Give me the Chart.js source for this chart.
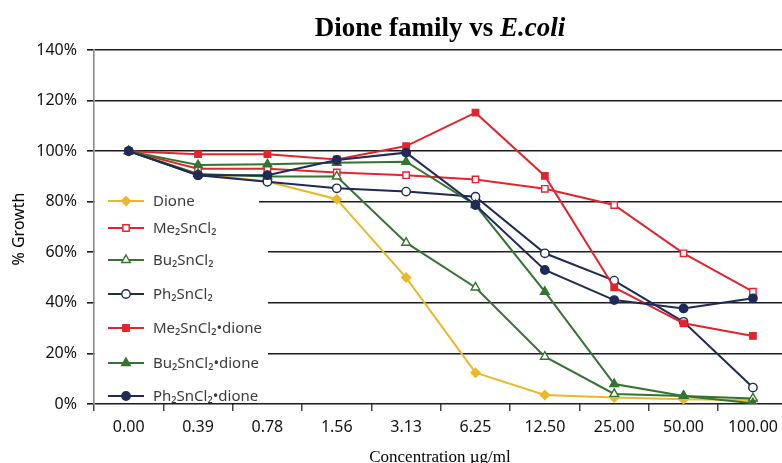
<!DOCTYPE html>
<html>
<head>
<meta charset="utf-8">
<script src="https://cdn.jsdelivr.net/npm/chart.js@4"></script>
<style>
  html, body { margin: 0; padding: 0; background: #fff; overflow: hidden; }
  #wrap { width: 782px; height: 463px; overflow: hidden; }
  #c { display: block; }
</style>
</head>
<body>
<div id="wrap"><canvas id="c" width="794" height="463"></canvas></div>
<script>
// Concentrations tested (µg/ml)
const concentrations = ['0.00', '0.39', '0.78', '1.56', '3.13', '6.25', '12.50', '25.00', '50.00', '100.00'];

// % growth of E. coli at each concentration
const dione          = [100, 91, 88, 81, 50, 12.4, 3.6, 2.6, 1.9, 1.6];
const me2SnCl2       = [100, 93, 93, 91.6, 90.5, 88.8, 85.1, 78.7, 59.6, 44.4];
const bu2SnCl2       = [100, 91, 90, 90, 63.8, 46.1, 18.7, 4, 3.2, 2.2];
const ph2SnCl2       = [100, 90.5, 87.9, 85.3, 84, 82, 59.6, 48.8, 32.5, 6.5];
const me2SnCl2Dione  = [100, 98.8, 98.8, 96.7, 102, 115.2, 90.2, 46.1, 31.9, 26.9];
const bu2SnCl2Dione  = [100, 94.5, 94.8, 95.4, 95.8, 78.7, 44.4, 7.9, 3.2, 0.3];
const ph2SnCl2Dione  = [100, 90.5, 90.5, 96.5, 99.4, 78.7, 53, 41.1, 37.8, 41.8];

const seriesNames = ['Dione', 'Me₂SnCl₂', 'Bu₂SnCl₂', 'Ph₂SnCl₂', 'Me₂SnCl₂•dione', 'Bu₂SnCl₂•dione', 'Ph₂SnCl₂•dione'];
const yTicks = [0, 20, 40, 60, 80, 100, 120, 140];

const YELLOW = '#EAB82A', RED = '#E2252C', GREEN = '#357330', NAVY = '#1E2A57';

function series(label, data, color, style, hollow, radius) {
  return {
    label, data,
    borderColor: color,
    backgroundColor: color,
    borderWidth: 2,
    pointStyle: style,
    pointRadius: radius,
    pointHoverRadius: radius,
    pointBackgroundColor: hollow ? '#fff' : color,
    pointBorderColor: color,
    pointBorderWidth: 1.4,
    tension: 0
  };
}

const datasets = [
  series(seriesNames[0], dione,         YELLOW, 'rectRot',  false, 4.5),
  series(seriesNames[1], me2SnCl2,      RED,    'rect',     true,  4.5),
  series(seriesNames[2], bu2SnCl2,      GREEN,  'triangle', true,  5),
  series(seriesNames[3], ph2SnCl2,      NAVY,   'circle',   true,  4.2),
  series(seriesNames[4], me2SnCl2Dione, RED,    'rect',     false, 4.5),
  series(seriesNames[5], bu2SnCl2Dione, GREEN,  'triangle', false, 5),
  series(seriesNames[6], ph2SnCl2Dione, NAVY,   'circle',   false, 4.2)
];
// later series are painted on top of earlier ones
datasets.forEach((d, i) => { d.order = datasets.length - 1 - i; });

const SANS = '"Noto Sans", "Open Sans", sans-serif';
const SERIF = '"Liberation Serif", "Times New Roman", serif';

// Title, axis titles and the boxed legend inside the plot area
const decorations = {
  id: 'decorations',
  afterDraw(chart) {
    const ctx = chart.ctx;
    const area = chart.chartArea;
    ctx.save();

    // title: "Dione family vs " + italic "E.coli"
    const part1 = 'Dione family vs ', part2 = 'E.coli';
    const titleSize = 27;
    ctx.fillStyle = '#000';
    ctx.textBaseline = 'alphabetic';
    ctx.font = 'bold ' + titleSize + 'px ' + SERIF;
    const w1 = ctx.measureText(part1).width;
    ctx.font = 'italic bold ' + titleSize + 'px ' + SERIF;
    const w2 = ctx.measureText(part2).width;
    const tx = 440 - (w1 + w2) / 2;
    ctx.font = 'bold ' + titleSize + 'px ' + SERIF;
    ctx.fillText(part1, tx, 36);
    ctx.font = 'italic bold ' + titleSize + 'px ' + SERIF;
    ctx.fillText(part2, tx + w1, 36);

    // x-axis title
    ctx.font = '17px ' + SERIF;
    ctx.textAlign = 'center';
    ctx.fillText('Concentration µg/ml', 440, 462);

    // y-axis title
    ctx.save();
    ctx.translate(19, 229);
    ctx.rotate(-Math.PI / 2);
    ctx.font = '16px ' + SANS;
    ctx.textBaseline = 'middle';
    ctx.fillText('% Growth', 0, 0);
    ctx.restore();

    // legend box
    ctx.fillStyle = '#fff';
    ctx.fillRect(area.left + 1, 186, 164, 30);
    ctx.fillRect(area.left + 1, 214, 173, 188);

    const rows = [201, 228, 260, 294, 328, 363, 396];
    ctx.textAlign = 'left';
    ctx.textBaseline = 'middle';
    ctx.font = '15px ' + SANS;
    chart.data.datasets.forEach((d, i) => {
      const y = rows[i];
      ctx.strokeStyle = d.borderColor;
      ctx.lineWidth = 2;
      ctx.beginPath();
      ctx.moveTo(108, y);
      ctx.lineTo(144, y);
      ctx.stroke();
      ctx.fillStyle = d.pointBackgroundColor;
      ctx.strokeStyle = d.pointBorderColor;
      ctx.lineWidth = d.pointBorderWidth;
      Chart.helpers.drawPoint(ctx, {
        pointStyle: d.pointStyle,
        radius: d.pointRadius,
        rotation: 0,
        borderWidth: d.pointBorderWidth
      }, 126, y);
      ctx.fillStyle = '#3a3a3a';
      ctx.fillText(d.label, 153, y + 1);
    });

    ctx.restore();
  }
};

new Chart(document.getElementById('c'), {
  type: 'line',
  data: { labels: concentrations, datasets },
  plugins: [decorations],
  options: {
    responsive: false,
    animation: false,
    devicePixelRatio: 1,
    layout: { padding: { top: 50, right: 0, left: 0, bottom: 0 } },
    plugins: {
      legend: { display: false },
      title: { display: false },
      tooltip: { enabled: false }
    },
    scales: {
      x: {
        type: 'category',
        offset: true,
        afterFit(scale) { scale.height = 59; },
        grid: {
          offset: true,
          drawOnChartArea: false,
          drawTicks: true,
          tickLength: 7,
          color: '#444',
          lineWidth: 1.5
        },
        border: { display: false },
        ticks: {
          color: '#111',
          padding: 7,
          maxRotation: 0,
          autoSkip: false,
          font: { family: SANS, size: 16 }
        }
      },
      y: {
        min: 0,
        max: 140,
        afterFit(scale) { scale.width = 94; },
        afterBuildTicks(scale) { scale.ticks = yTicks.map(v => ({ value: v })); },
        grid: {
          color: '#1c1c1c',
          lineWidth: 1.6,
          drawTicks: true,
          tickLength: 7
        },
        border: { display: true, color: '#8a8a8a', width: 1.6 },
        ticks: {
          color: '#111',
          padding: 10,
          font: { family: SANS, size: 16 },
          callback: v => v + '%'
        }
      }
    }
  }
});
</script>
</body>
</html>
